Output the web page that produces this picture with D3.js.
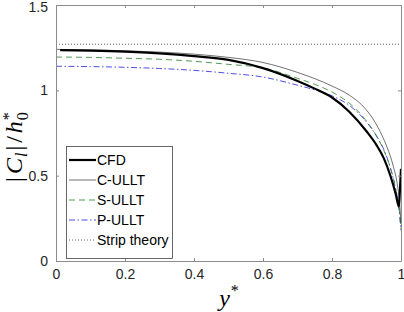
<!DOCTYPE html>
<html>
<head>
<meta charset="UTF-8">
<title>Lift amplitude</title>
<script src="https://cdnjs.cloudflare.com/ajax/libs/d3/7.8.5/d3.min.js"></script>
<style>
html, body { margin: 0; padding: 0; background: #fff; }
svg { display: block; }
.tick text { font-family: "Liberation Sans", Arial, sans-serif; font-size: 14px; fill: #262626; }
</style>
</head>
<body>
<script>
// values: [y*, |Cl|/h0*]
var cfd = [[0.012,1.236],[0.1,1.233],[0.2,1.227],[0.3,1.216],[0.4,1.2],[0.5,1.178],[0.6,1.13],
  [0.7,1.055],[0.75,1.01],[0.8,0.958],[0.85,0.875],[0.9,0.76],[0.93,0.676],[0.95,0.603],
  [0.97,0.495],[0.985,0.39],[0.994,0.318],[0.997,0.42],[1.0,0.54]];
var cUllt = [[0,1.24],[0.1,1.237],[0.2,1.232],[0.3,1.224],[0.4,1.212],[0.5,1.193],[0.6,1.163],
  [0.7,1.105],[0.8,1.025],[0.85,0.972],[0.886,0.915],[0.918,0.835],[0.944,0.74],[0.96,0.665],
  [0.977,0.56],[0.99,0.44],[0.996,0.34],[1.0,0.22]];
var sUllt = [[0,1.195],[0.1,1.193],[0.2,1.188],[0.3,1.182],[0.4,1.17],[0.5,1.152],[0.6,1.132],
  [0.7,1.07],[0.75,1.035],[0.8,0.99],[0.85,0.925],[0.9,0.82],[0.93,0.73],[0.955,0.625],
  [0.972,0.53],[0.985,0.42],[0.994,0.32],[1.0,0.18]];
var pUllt = [[0,1.141],[0.1,1.139],[0.2,1.135],[0.3,1.128],[0.4,1.117],[0.5,1.1],[0.6,1.078],
  [0.7,1.03],[0.75,1.003],[0.8,0.968],[0.85,0.912],[0.89,0.838],[0.928,0.735],[0.952,0.645],
  [0.968,0.553],[0.983,0.435],[0.994,0.31],[1.0,0.18]];
var strip = [[0,1.27],[1,1.27]];

var xTicks = [0, 0.2, 0.4, 0.6, 0.8, 1];
var yTicks = [0, 0.5, 1, 1.5];
var legendNames = ["CFD", "C-ULLT", "S-ULLT", "P-ULLT", "Strip theory"];

var width = 404, height = 312;
var plotL = 56, plotR = 401, plotT = 5, plotB = 261;

var svg = d3.select("body").append("svg")
    .attr("width", width)
    .attr("height", height);

var x = d3.scaleLinear().domain([0, 1]).range([plotL, plotR]);
var y = d3.scaleLinear().domain([0, 1.5]).range([plotB, plotT]);

var line = d3.line()
    .x(function (d) { return x(d[0]); })
    .y(function (d) { return y(d[1]); })
    .curve(d3.curveMonotoneX);

var series = [
  {data: cfd,   color: "#000000", w: 2.2, dash: null},
  {data: cUllt, color: "#111111", w: 0.6, dash: null},
  {data: sUllt, color: "#3d8f3d", w: 0.9, dash: "6,4"},
  {data: pUllt, color: "#3a3ae6", w: 0.9, dash: "6,2.5,1.5,2.5"},
  {data: strip, color: "#555555", w: 0.9, dash: "1,2"}
];

var lines = svg.append("g");
// draw back to front so CFD sits on top
series.slice().reverse().forEach(function (s) {
  lines.append("path")
      .datum(s.data)
      .attr("d", line)
      .attr("fill", "none")
      .attr("stroke", s.color)
      .attr("stroke-width", s.w)
      .attr("stroke-dasharray", s.dash);
});

// axes, ticks point inward on all four sides
var axisColor = "#8c8c8c";
svg.append("g").attr("transform", "translate(0," + plotB + ")")
    .call(d3.axisBottom(x).tickValues(xTicks).tickSizeInner(-3).tickSizeOuter(0).tickPadding(8)
      .tickFormat(d3.format("~g")));
var yAxisG = svg.append("g").attr("transform", "translate(" + plotL + ",0)")
    .call(d3.axisLeft(y).tickValues(yTicks).tickSizeInner(-3).tickSizeOuter(0).tickPadding(8)
      .tickFormat(d3.format("~g")));
// top label would touch the window edge, nudge it down a little
yAxisG.selectAll(".tick text").filter(function (d) { return d === 1.5; })
    .attr("dy", "0.45em");
svg.append("g").attr("transform", "translate(0," + plotT + ")")
    .call(d3.axisTop(x).tickValues(xTicks).tickSizeInner(-3).tickSizeOuter(0).tickFormat(""));
svg.append("g").attr("transform", "translate(" + plotR + ",0)")
    .call(d3.axisRight(y).tickValues(yTicks).tickSizeInner(-3).tickSizeOuter(0).tickFormat(""));
svg.selectAll(".domain").attr("stroke", axisColor);
svg.selectAll(".tick line").attr("stroke", axisColor);

// legend
var lg = svg.append("g");
lg.append("rect")
    .attr("x", 66.5).attr("y", 146.5)
    .attr("width", 106).attr("height", 112)
    .attr("fill", "#fff")
    .attr("stroke", "#444").attr("stroke-width", 0.8);
series.forEach(function (s, i) {
  var ly = 160 + i * 20;
  lg.append("line")
      .attr("x1", 69).attr("x2", 96)
      .attr("y1", ly).attr("y2", ly)
      .attr("stroke", s.color)
      .attr("stroke-width", s.w)
      .attr("stroke-dasharray", s.dash);
  lg.append("text")
      .attr("x", 97).attr("y", ly + 5)
      .attr("font-family", "Liberation Sans, Arial, sans-serif")
      .attr("font-size", 14)
      .attr("fill", "#000")
      .text(legendNames[i]);
});

// axis labels
var serif = "Liberation Serif, DejaVu Serif, serif";
var xl = svg.append("text")
    .attr("x", 229).attr("y", 306)
    .attr("text-anchor", "middle")
    .attr("font-family", serif).attr("font-size", 24);
xl.append("tspan").attr("font-style", "italic").text("y");
xl.append("tspan").attr("font-size", 16).attr("dx", 1).attr("dy", -10).text("*");

var yl = svg.append("text")
    .attr("transform", "translate(22,147) rotate(-90)")
    .attr("text-anchor", "middle")
    .attr("font-family", serif).attr("font-size", 24);
yl.append("tspan").text("|");
yl.append("tspan").attr("font-style", "italic").attr("dx", 3).text("C");
yl.append("tspan").attr("font-style", "italic").attr("font-size", 16).attr("dx", 1).attr("dy", 5).text("l");
yl.append("tspan").attr("dx", 2).attr("dy", -5).text("|");
yl.append("tspan").attr("dx", 3).text("/");
yl.append("tspan").attr("font-style", "italic").attr("dx", 3).text("h");
yl.append("tspan").attr("font-size", 16).attr("dx", 1).attr("dy", 6).text("0");
yl.append("tspan").attr("font-size", 16).attr("dx", -8).attr("dy", -14).text("*");
</script>
</body>
</html>
